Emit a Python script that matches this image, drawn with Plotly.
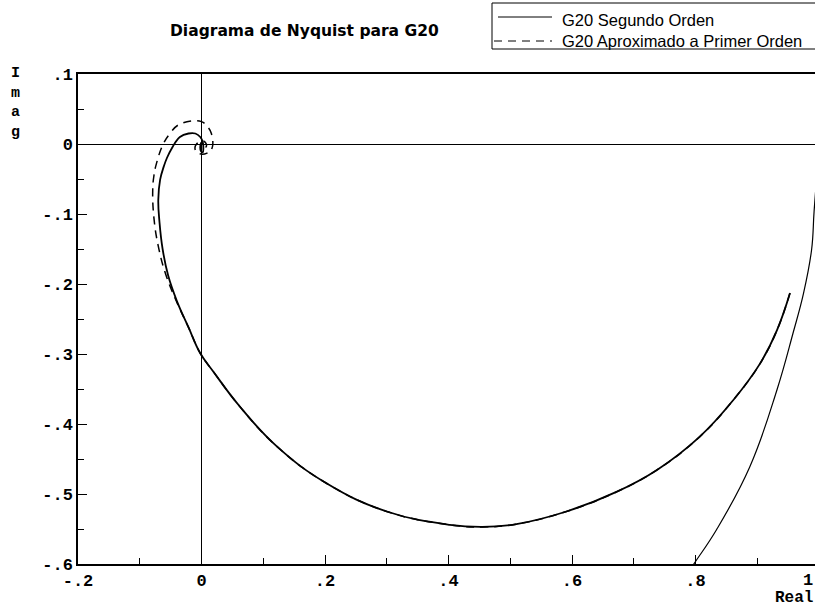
import plotly.graph_objects as go

# Nyquist curve of G20, second-order model (solid)
solid_real = [0.953, 0.932, 0.905, 0.861, 0.807, 0.737, 0.672, 0.591, 0.510, 0.455,
              0.402, 0.300, 0.203, 0.122, 0.062, 0.019, -0.002, -0.021, -0.040, -0.054,
              -0.063, -0.068, -0.070, -0.067, -0.061, -0.056, -0.048, -0.035, -0.021, -0.010,
              -0.002, 0.002, 0.003, 0.002, -0.001, -0.002, 0.000, 0.001]
solid_imag = [-0.213, -0.266, -0.313, -0.366, -0.418, -0.466, -0.497, -0.525, -0.543, -0.547,
              -0.544, -0.525, -0.485, -0.432, -0.375, -0.325, -0.299, -0.262, -0.224, -0.188,
              -0.150, -0.112, -0.080, -0.051, -0.032, -0.020, -0.006, 0.010, 0.015, 0.015,
              0.010, 0.003, -0.006, -0.012, -0.010, -0.004, 0.002, 0.000]

# Branch of the second-order curve entering from the right edge
branch_real = [0.780, 0.798, 0.834, 0.888, 0.932, 0.958, 0.975, 0.988, 0.992, 0.997]
branch_imag = [-0.623, -0.599, -0.551, -0.461, -0.351, -0.270, -0.213, -0.151, -0.097, -0.040]

# First-order approximation (dashed)
dashed_real = [0.953, 0.932, 0.905, 0.861, 0.807, 0.737, 0.672, 0.591, 0.510, 0.455,
               0.402, 0.300, 0.203, 0.122, 0.062, 0.019, -0.002, -0.021, -0.041, -0.058,
               -0.070, -0.077, -0.079, -0.077, -0.073, -0.062, -0.051, -0.038, -0.014, 0.000,
               0.0095, 0.016, 0.017, 0.009, -0.003, -0.010, -0.008, 0.004, 0.008, 0.003, -0.002]
dashed_imag = [-0.213, -0.266, -0.313, -0.366, -0.418, -0.466, -0.497, -0.525, -0.543, -0.547,
               -0.544, -0.525, -0.485, -0.432, -0.375, -0.325, -0.299, -0.262, -0.224, -0.186,
               -0.146, -0.106, -0.066, -0.045, -0.028, 0.000, 0.015, 0.027, 0.033, 0.032,
               0.025, 0.015, -0.006, -0.013, -0.014, -0.009, 0.000, 0.004, -0.003, -0.006, -0.002]

x_ticks = [-0.2, 0, 0.2, 0.4, 0.6, 0.8]
x_labels = ["-.2", "0", ".2", ".4", ".6", ".8"]
y_ticks = [0.1, 0, -0.1, -0.2, -0.3, -0.4, -0.5, -0.6]
y_labels = [".1", "0", "-.1", "-.2", "-.3", "-.4", "-.5", "-.6"]

legend_names = ["G20 Segundo Orden", "G20 Aproximado a Primer Orden"]

W, H = 815, 609
L, T, B = 78, 74, 45
PW, PH = W - L, H - T - B

MONO = "Liberation Mono"
SANS = "Liberation Sans"

fig = go.Figure()
fig.add_trace(go.Scatter(x=solid_real, y=solid_imag, mode="lines", name=legend_names[0],
                         line=dict(color="black", width=1.8, shape="spline", smoothing=1.2),
                         showlegend=False))
fig.add_trace(go.Scatter(x=branch_real, y=branch_imag, mode="lines", name=legend_names[0],
                         line=dict(color="black", width=1.2, shape="spline", smoothing=1.2),
                         showlegend=False))
fig.add_trace(go.Scatter(x=dashed_real, y=dashed_imag, mode="lines", name=legend_names[1],
                         line=dict(color="black", width=1.5, dash="8px,6px", shape="spline",
                                   smoothing=1.2),
                         showlegend=False))

axis_common = dict(showgrid=False, showline=True, linecolor="black", linewidth=1.5,
                   ticks="inside", ticklen=9, tickcolor="black", tickwidth=1.2,
                   zeroline=True, zerolinecolor="black", zerolinewidth=1,
                   tickfont=dict(family=MONO, size=17, color="black", weight="bold"))

fig.update_xaxes(range=[-0.2, -0.2 + PW / 617.5], tickvals=x_ticks, ticktext=x_labels,
                 mirror=True,
                 minor=dict(dtick=0.1, tick0=0, ticks="inside", ticklen=6, tickcolor="black"),
                 **axis_common)
fig.update_yaxes(range=[-0.6, 0.1], tickvals=y_ticks, ticktext=y_labels,
                 minor=dict(dtick=0.05, tick0=0, ticks="inside", ticklen=6, tickcolor="black"),
                 **axis_common)

shapes = []
annotations = []

# Legend box and samples (box runs past the right edge)
shapes.append(dict(type="rect", xref="paper", yref="paper",
                   x0=(492 - L) / PW, x1=(840 - L) / PW,
                   y0=(H - B - 49) / PH, y1=(H - B - 3) / PH,
                   line=dict(color="black", width=1), fillcolor="white", layer="above"))
shapes.append(dict(type="line", xref="paper", yref="paper",
                   x0=(498 - L) / PW, x1=(552 - L) / PW,
                   y0=(H - B - 17) / PH, y1=(H - B - 17) / PH,
                   line=dict(color="black", width=1)))
shapes.append(dict(type="line", xref="paper", yref="paper",
                   x0=(494 - L) / PW, x1=(552 - L) / PW,
                   y0=(H - B - 41) / PH, y1=(H - B - 41) / PH,
                   line=dict(color="black", width=1, dash="8px,6px")))
for name, yc in zip(legend_names, [20, 41]):
    annotations.append(dict(text=name, xref="paper", yref="paper",
                            x=(560 - L) / PW, y=(H - B - yc) / PH,
                            xanchor="left", yanchor="middle", showarrow=False,
                            font=dict(family=SANS, size=16.5, color="black")))

# Title
annotations.append(dict(text="<b>Diagrama de Nyquist para G20</b>", xref="paper", yref="paper",
                        x=(304 - L) / PW, y=(H - B - 31) / PH, xanchor="center",
                        yanchor="middle", showarrow=False,
                        font=dict(family="DejaVu Sans", size=15.5, color="black")))
# Axis names
annotations.append(dict(text="I<br>m<br>a<br>g", xref="paper", yref="paper",
                        x=(15 - L) / PW, y=(H - B - 72 + 9) / PH, xanchor="center",
                        yanchor="top", showarrow=False, align="center",
                        font=dict(family=MONO, size=15, color="black", weight="bold")))
annotations.append(dict(text="Real", xref="paper", yref="paper",
                        x=(815 - L) / PW, y=(H - B - 598) / PH, xanchor="right",
                        yanchor="middle", showarrow=False,
                        font=dict(family=MONO, size=16, color="black", weight="bold")))
# Last x tick label, at the right edge
annotations.append(dict(text="1", xref="paper", yref="paper",
                        x=(815 - L) / PW, y=(H - B - 580) / PH, xanchor="right",
                        yanchor="middle", showarrow=False,
                        font=dict(family=MONO, size=17, color="black", weight="bold")))

fig.update_layout(width=W, height=H, margin=dict(l=L, r=0, t=T, b=B, pad=0),
                  plot_bgcolor="white", paper_bgcolor="white",
                  shapes=shapes, annotations=annotations, showlegend=False)

fig.write_html("out.html")
